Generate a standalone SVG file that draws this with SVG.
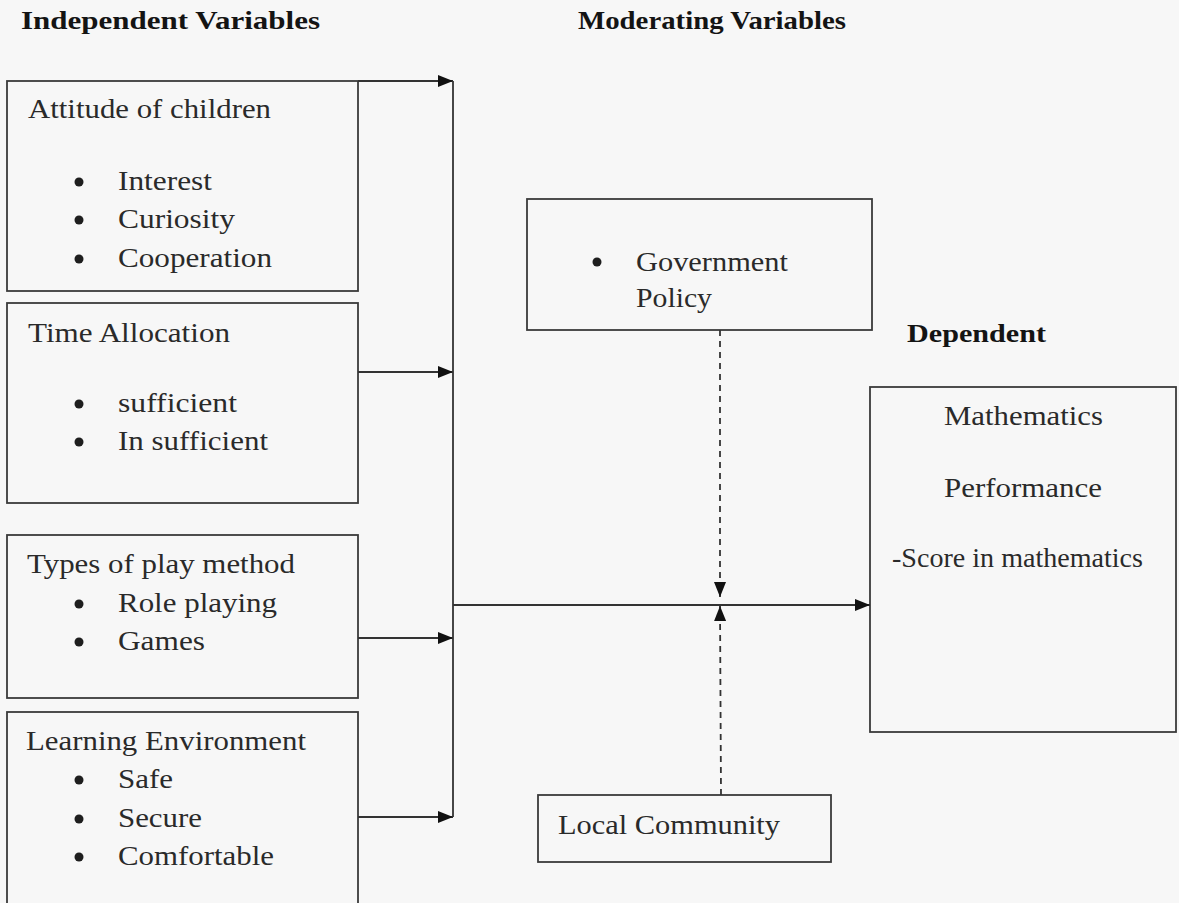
<svg xmlns="http://www.w3.org/2000/svg" width="1179" height="903" viewBox="0 0 1179 903">
<defs>
<style>
.bg{fill:#f7f7f7}
.box{fill:none;stroke:#3a3a3a;stroke-width:1.8}
.t{font-family:"Liberation Serif","Times New Roman",serif;font-size:27px;fill:#2a2a2a}
.h{font-family:"Liberation Serif","Times New Roman",serif;font-size:26px;font-weight:bold;fill:#141414}
.dot{fill:#1e1e1e}
.ln{fill:none;stroke:#333;stroke-width:1.8}
.dash{fill:none;stroke:#333;stroke-width:1.8;stroke-dasharray:6 5}
</style>
<marker id="arr" viewBox="0 0 15 12" refX="15" refY="6" markerWidth="15" markerHeight="12" markerUnits="userSpaceOnUse" orient="auto">
<path d="M0,0 L15,6 L0,12 z" fill="#111"/>
</marker>
</defs>
<rect class="bg" x="0" y="0" width="1179" height="903"/>

<g id="headers">
<text class="h" x="21" y="29" textLength="299" lengthAdjust="spacingAndGlyphs">Independent Variables</text>
<text class="h" x="578" y="29" textLength="268" lengthAdjust="spacingAndGlyphs">Moderating Variables</text>
<text class="h" x="907" y="342" textLength="139" lengthAdjust="spacingAndGlyphs">Dependent</text>
</g>

<g id="attitude">
<rect class="box" x="7" y="81" width="351" height="210"/>
<text class="t" x="28" y="118" textLength="243" lengthAdjust="spacingAndGlyphs">Attitude of children</text>
<circle class="dot" cx="79" cy="182" r="4.5"/>
<text class="t" x="118" y="190" textLength="94" lengthAdjust="spacingAndGlyphs">Interest</text>
<circle class="dot" cx="79" cy="220" r="4.5"/>
<text class="t" x="118" y="228" textLength="117" lengthAdjust="spacingAndGlyphs">Curiosity</text>
<circle class="dot" cx="79" cy="259" r="4.5"/>
<text class="t" x="118" y="267" textLength="154" lengthAdjust="spacingAndGlyphs">Cooperation</text>
</g>

<g id="time">
<rect class="box" x="7" y="303" width="351" height="200"/>
<text class="t" x="28" y="342" textLength="202" lengthAdjust="spacingAndGlyphs">Time Allocation</text>
<circle class="dot" cx="79" cy="404" r="4.5"/>
<text class="t" x="118" y="412" textLength="119" lengthAdjust="spacingAndGlyphs">sufficient</text>
<circle class="dot" cx="79" cy="442" r="4.5"/>
<text class="t" x="118" y="450" textLength="150" lengthAdjust="spacingAndGlyphs">In sufficient</text>
</g>

<g id="play">
<rect class="box" x="7" y="535" width="351" height="163"/>
<text class="t" x="27" y="573" textLength="268" lengthAdjust="spacingAndGlyphs">Types of play method</text>
<circle class="dot" cx="79" cy="604" r="4.5"/>
<text class="t" x="118" y="612" textLength="159" lengthAdjust="spacingAndGlyphs">Role playing</text>
<circle class="dot" cx="79" cy="642" r="4.5"/>
<text class="t" x="118" y="650" textLength="87" lengthAdjust="spacingAndGlyphs">Games</text>
</g>

<g id="environment">
<rect class="box" x="7" y="712" width="351" height="200"/>
<text class="t" x="26" y="750" textLength="280" lengthAdjust="spacingAndGlyphs">Learning Environment</text>
<circle class="dot" cx="79" cy="780" r="4.5"/>
<text class="t" x="118" y="788" textLength="55" lengthAdjust="spacingAndGlyphs">Safe</text>
<circle class="dot" cx="79" cy="819" r="4.5"/>
<text class="t" x="118" y="827" textLength="84" lengthAdjust="spacingAndGlyphs">Secure</text>
<circle class="dot" cx="79" cy="857" r="4.5"/>
<text class="t" x="118" y="865" textLength="156" lengthAdjust="spacingAndGlyphs">Comfortable</text>
</g>

<g id="government">
<rect class="box" x="527" y="199" width="345" height="131"/>
<circle class="dot" cx="597" cy="262" r="4.5"/>
<text class="t" x="636" y="271" textLength="152" lengthAdjust="spacingAndGlyphs">Government</text>
<text class="t" x="636" y="307" textLength="76" lengthAdjust="spacingAndGlyphs">Policy</text>
</g>

<g id="community">
<rect class="box" x="538" y="795" width="293" height="67"/>
<text class="t" x="558" y="834" textLength="222" lengthAdjust="spacingAndGlyphs">Local Community</text>
</g>

<g id="dependent">
<rect class="box" x="870" y="387" width="306" height="345"/>
<text class="t" x="944" y="425" textLength="159" lengthAdjust="spacingAndGlyphs">Mathematics</text>
<text class="t" x="944" y="497" textLength="158" lengthAdjust="spacingAndGlyphs">Performance</text>
<text class="t" x="892" y="567" textLength="251" lengthAdjust="spacingAndGlyphs">-Score in mathematics</text>
</g>

<g id="connectors">
<line class="ln" x1="358" y1="81" x2="453" y2="81" marker-end="url(#arr)"/>
<line class="ln" x1="358" y1="372" x2="453" y2="372" marker-end="url(#arr)"/>
<line class="ln" x1="358" y1="638" x2="453" y2="638" marker-end="url(#arr)"/>
<line class="ln" x1="358" y1="817" x2="453" y2="817" marker-end="url(#arr)"/>
<line class="ln" x1="453" y1="81" x2="453" y2="817"/>
<line class="ln" x1="453" y1="605" x2="870" y2="605" marker-end="url(#arr)"/>
<line class="dash" x1="720" y1="330" x2="720" y2="597" marker-end="url(#arr)"/>
<line class="dash" x1="721" y1="795" x2="720" y2="606" marker-end="url(#arr)"/>
</g>
</svg>
